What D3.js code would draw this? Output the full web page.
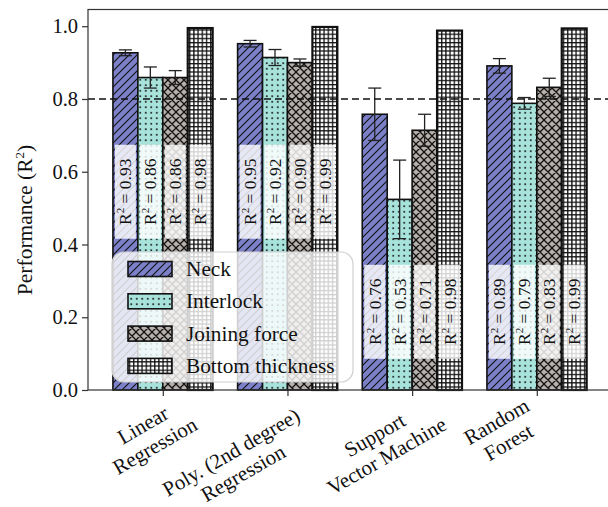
<!DOCTYPE html>
<html>
<head>
<meta charset="utf-8">
<script src="https://cdn.jsdelivr.net/npm/d3@7"></script>
<style>
	body { margin: 0; background: #fff; }
	svg { display: block; }
	text { font-family: "Liberation Serif", "DejaVu Serif", serif; fill: #111; }
</style>
</head>
<body>
<svg width="608" height="507"></svg>
<script>
// data
var categories = [["Linear", "Regression"], ["Poly. (2nd degree)", "Regression"], ["Support", "Vector Machine"], ["Random", "Forest"]];
var seriesNames = ["Neck", "Interlock", "Joining force", "Bottom thickness"];
var neck = [0.927, 0.952, 0.758, 0.891];
var interlock = [0.859, 0.914, 0.524, 0.788];
var joining = [0.859, 0.900, 0.714, 0.832];
var bottom = [0.995, 0.998, 0.988, 0.994];
var neckErr = [0.008, 0.009, 0.072, 0.020];
var interlockErr = [0.029, 0.022, 0.108, 0.016];
var joiningErr = [0.019, 0.010, 0.044, 0.025];
var bottomErr = [0, 0, 0, 0];
var neckR2 = ["0.93", "0.95", "0.76", "0.89"];
var interlockR2 = ["0.86", "0.92", "0.53", "0.79"];
var joiningR2 = ["0.86", "0.90", "0.71", "0.83"];
var bottomR2 = ["0.98", "0.99", "0.98", "0.99"];
var r2LabelAt = [0.545, 0.545, 0.215, 0.215];
var yTicks = [0, 0.2, 0.4, 0.6, 0.8, 1.0];
var threshold = 0.8;

var series = [
	{ name: seriesNames[0], values: neck, err: neckErr, r2: neckR2, pat: "hatchNeck", edge: 1.6 },
	{ name: seriesNames[1], values: interlock, err: interlockErr, r2: interlockR2, pat: "hatchInterlock", edge: 1.6 },
	{ name: seriesNames[2], values: joining, err: joiningErr, r2: joiningR2, pat: "hatchJoining", edge: 1.6 },
	{ name: seriesNames[3], values: bottom, err: bottomErr, r2: bottomR2, pat: "hatchBottom", edge: 2.2 }
];

var svg = d3.select("svg");
var plotLeft = 88, plotTop = 9.5, plotBottom = 390, plotRight = 611.6;
var barW = 0.2;

var x = d3.scaleLinear().domain([-0.6, 3.6]).range([plotLeft, plotRight]);
var y = d3.scaleLinear().domain([0, 1.046]).range([plotBottom, plotTop]);

function appendDefs() {
	var defs = svg.append("defs");

	var p = defs.append("pattern")
		.attr("id", "hatchNeck")
		.attr("patternUnits", "userSpaceOnUse")
		.attr("width", 8)
		.attr("height", 8);
	p.append("rect").attr("width", 8).attr("height", 8).attr("fill", "#7b80c9");
	p.append("path")
		.attr("d", "M0,8L8,0M-2,2L2,-2M6,10L10,6")
		.attr("stroke", "#111")
		.attr("stroke-width", 1.1);

	p = defs.append("pattern")
		.attr("id", "hatchInterlock")
		.attr("patternUnits", "userSpaceOnUse")
		.attr("width", 5.5)
		.attr("height", 5.5);
	p.append("rect").attr("width", 5.5).attr("height", 5.5).attr("fill", "#a7e2db");
	p.append("circle")
		.attr("cx", 2.75)
		.attr("cy", 2.75)
		.attr("r", 1)
		.attr("fill", "#111");

	p = defs.append("pattern")
		.attr("id", "hatchJoining")
		.attr("patternUnits", "userSpaceOnUse")
		.attr("width", 8)
		.attr("height", 8);
	p.append("rect").attr("width", 8).attr("height", 8).attr("fill", "#b6afab");
	p.append("path")
		.attr("d", "M0,8L8,0M-2,2L2,-2M6,10L10,6M0,0L8,8M-2,6L2,10M6,-2L10,2")
		.attr("stroke", "#111")
		.attr("stroke-width", 1.3);

	p = defs.append("pattern")
		.attr("id", "hatchBottom")
		.attr("patternUnits", "userSpaceOnUse")
		.attr("width", 4.2)
		.attr("height", 4.2);
	p.append("rect").attr("width", 4.2).attr("height", 4.2).attr("fill", "#fff");
	p.append("path")
		.attr("d", "M0.7,0L0.7,4.2M0,0.7L4.2,0.7")
		.attr("stroke", "#111")
		.attr("stroke-width", 1.3);
}

appendDefs();

var plot = svg.append("g");

// bars
series.forEach(function (s, j) {
	var off = (j - 1.5) * barW;
	plot.selectAll(".bar" + j)
		.data(s.values)
		.enter()
		.append("rect")
		.attr("class", "bar" + j)
		.attr("x", function (d, i) { return x(i + off - barW / 2); })
		.attr("width", x(barW) - x(0))
		.attr("y", function (d) { return y(d); })
		.attr("height", function (d) { return y(0) - y(d); })
		.attr("fill", "url(#" + s.pat + ")")
		.attr("stroke", "#111")
		.attr("stroke-width", s.edge);
});

// error bars
series.forEach(function (s, j) {
	var off = (j - 1.5) * barW;
	s.values.forEach(function (v, i) {
		if (!s.err[i]) return;
		var cx = x(i + off);
		var g = plot.append("g")
			.attr("stroke", "#222")
			.attr("stroke-width", 1.3);
		g.append("line")
			.attr("x1", cx).attr("x2", cx)
			.attr("y1", y(v - s.err[i])).attr("y2", y(v + s.err[i]));
		g.append("line")
			.attr("x1", cx - 6.5).attr("x2", cx + 6.5)
			.attr("y1", y(v + s.err[i])).attr("y2", y(v + s.err[i]));
		g.append("line")
			.attr("x1", cx - 6.5).attr("x2", cx + 6.5)
			.attr("y1", y(v - s.err[i])).attr("y2", y(v - s.err[i]));
	});
});

// threshold line
plot.append("line")
	.attr("x1", plotLeft)
	.attr("x2", plotRight)
	.attr("y1", y(threshold))
	.attr("y2", y(threshold))
	.attr("stroke", "#111")
	.attr("stroke-width", 1.4)
	.attr("stroke-dasharray", "7,4");

// R² labels
series.forEach(function (s, j) {
	var off = (j - 1.5) * barW;
	s.r2.forEach(function (t, i) {
		var cx = x(i + off);
		var cy = y(r2LabelAt[i]);
		plot.append("rect")
			.attr("x", cx - 10.5)
			.attr("y", cy - 47)
			.attr("width", 21)
			.attr("height", 94)
			.attr("fill", "#fff")
			.attr("fill-opacity", 0.82);
		var txt = plot.append("text")
			.attr("transform", "translate(" + (cx + 6) + "," + cy + ") rotate(-90)")
			.attr("text-anchor", "middle")
			.style("font-size", "17.5px");
		txt.append("tspan").text("R");
		txt.append("tspan").attr("dy", -7).style("font-size", "11px").text("2");
		txt.append("tspan").attr("dy", 7).text(" = " + t);
	});
});

// axes
var yAxis = d3.axisLeft(y)
	.tickValues(yTicks)
	.tickFormat(d3.format(".1f"))
	.tickSize(6)
	.tickPadding(4);
var gy = svg.append("g")
	.attr("transform", "translate(" + plotLeft + ",0)")
	.call(yAxis);
gy.select(".domain").remove();
gy.selectAll("line").attr("stroke", "#333").attr("stroke-width", 1.2);
gy.selectAll("text").style("font-size", "20.5px").style("font-family", "Liberation Serif, serif").style("fill", "#111");

var xAxis = d3.axisBottom(x)
	.tickValues(d3.range(categories.length))
	.tickFormat("")
	.tickSize(6);
var gx = svg.append("g")
	.attr("transform", "translate(0," + plotBottom + ")")
	.call(xAxis);
gx.select(".domain").remove();
gx.selectAll("line").attr("stroke", "#333").attr("stroke-width", 1.2);

// spines
svg.append("rect")
	.attr("x", plotLeft)
	.attr("y", plotTop)
	.attr("width", plotRight - plotLeft)
	.attr("height", plotBottom - plotTop)
	.attr("fill", "none")
	.attr("stroke", "#333")
	.attr("stroke-width", 1.2);

// category labels, rotated 30deg; small per-label nudge to sit like the reference
var labelNudge = [[0, 0], [-10, 12], [0, 0], [-30, 2]];
categories.forEach(function (lines, i) {
	var g = svg.append("g")
		.attr("transform", "translate(" + (x(i) + 16 + labelNudge[i][0]) + "," + (plotBottom + 4 + labelNudge[i][1]) + ") rotate(-30)");
	var texts = lines.map(function (l, k) {
		return g.append("text")
			.attr("y", 16 + k * 24)
			.attr("text-anchor", "middle")
			.style("font-size", "21px")
			.text(l);
	});
	var widest = d3.max(texts, function (t) { return t.node().getComputedTextLength(); });
	texts.forEach(function (t) { t.attr("x", -widest / 2); });
});

// y label
var yl = svg.append("text")
	.attr("transform", "translate(32,220) rotate(-90)")
	.attr("text-anchor", "middle")
	.style("font-size", "21.5px");
yl.append("tspan").text("Performance (R");
yl.append("tspan").attr("dy", -8).style("font-size", "13px").text("2");
yl.append("tspan").attr("dy", 8).text(")");

// legend
var lg = svg.append("g").attr("transform", "translate(112,252)");
lg.append("rect")
	.attr("width", 241)
	.attr("height", 130)
	.attr("rx", 12)
	.attr("fill", "#fff")
	.attr("fill-opacity", 0.8)
	.attr("stroke", "#cfcfcf")
	.attr("stroke-width", 1.2);
series.forEach(function (s, j) {
	var ry = 17 + j * 32.3;
	lg.append("rect")
		.attr("x", 16)
		.attr("y", ry - 7.5)
		.attr("width", 44)
		.attr("height", 15)
		.attr("fill", "url(#" + s.pat + ")")
		.attr("stroke", "#111")
		.attr("stroke-width", 1.6);
	lg.append("text")
		.attr("x", 74)
		.attr("y", ry + 7)
		.style("font-size", "21.3px")
		.text(s.name);
});
</script>
</body>
</html>
